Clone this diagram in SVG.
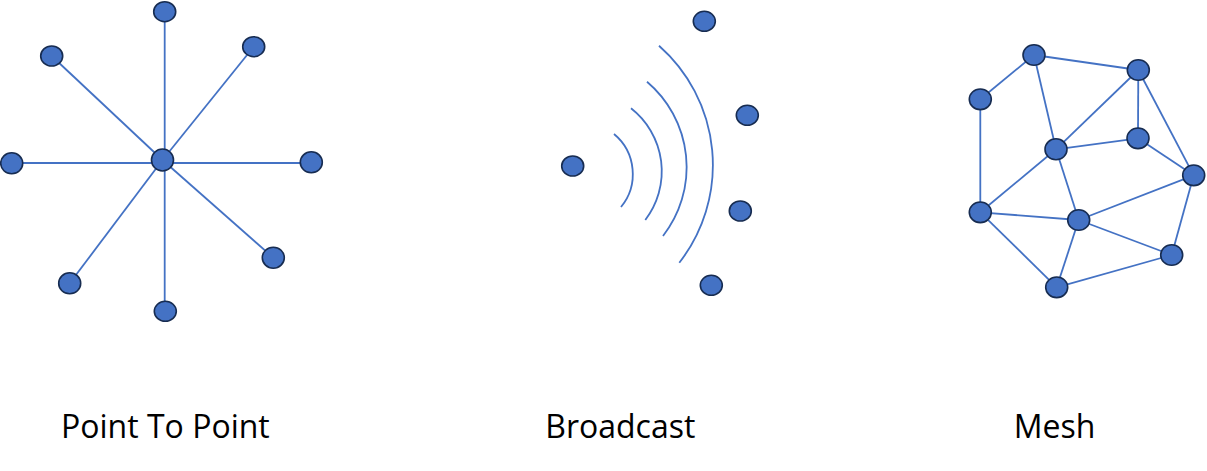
<svg xmlns="http://www.w3.org/2000/svg" width="1207" height="471" viewBox="0 0 1207 471">
<style>
.n{fill:#4472C4;stroke:#172C51;stroke-width:1.6}
.e{stroke:#4472C4;stroke-width:1.8;fill:none}
.t{font-family:"Open Sans","Liberation Sans",sans-serif;font-size:32px;fill:#000;text-anchor:middle}
</style>
<rect width="1207" height="471" fill="#fff"/>
<g id="connectors">
<line class="e" x1="164.7" y1="12" x2="164.7" y2="311"/>
<line class="e" x1="12" y1="163" x2="311" y2="163"/>
<line class="e" x1="51.7" y1="56" x2="162.5" y2="160"/>
<line class="e" x1="253.7" y1="46.7" x2="162.5" y2="160"/>
<line class="e" x1="273.3" y1="257.7" x2="162.5" y2="160"/>
<line class="e" x1="69.7" y1="283.3" x2="162.5" y2="160"/>
<path class="e" d="M614 134 A52 52 0 0 1 621 207"/>
<path class="e" d="M631 108.3 A80 80 0 0 1 645.3 220"/>
<path class="e" d="M647 81.7 A112 112 0 0 1 663 236"/>
<path class="e" d="M659 45.7 A159 159 0 0 1 679.3 262.7"/>
<g>
<line class="e" x1="1034" y1="55" x2="980.3" y2="99.3"/>
<line class="e" x1="1034" y1="55" x2="1138.3" y2="70"/>
<line class="e" x1="1034" y1="55" x2="1056" y2="149.3"/>
<line class="e" x1="1138.3" y1="70" x2="1056" y2="149.3"/>
<line class="e" x1="1138.3" y1="70" x2="1138" y2="138.3"/>
<line class="e" x1="1138.3" y1="70" x2="1193.7" y2="175.3"/>
<line class="e" x1="980.3" y1="99.3" x2="980.3" y2="212.3"/>
<line class="e" x1="1056" y1="149.3" x2="1138" y2="138.3"/>
<line class="e" x1="1056" y1="149.3" x2="980.3" y2="212.3"/>
<line class="e" x1="1056" y1="149.3" x2="1078.7" y2="220"/>
<line class="e" x1="1138" y1="138.3" x2="1193.7" y2="175.3"/>
<line class="e" x1="1193.7" y1="175.3" x2="1078.7" y2="220"/>
<line class="e" x1="1193.7" y1="175.3" x2="1171.7" y2="255"/>
<line class="e" x1="980.3" y1="212.3" x2="1078.7" y2="220"/>
<line class="e" x1="980.3" y1="212.3" x2="1056.7" y2="287.3"/>
<line class="e" x1="1078.7" y1="220" x2="1056.7" y2="287.3"/>
<line class="e" x1="1078.7" y1="220" x2="1171.7" y2="255"/>
<line class="e" x1="1171.7" y1="255" x2="1056.7" y2="287.3"/>
</g>
</g>
<g id="p2p-center"><ellipse class="n" cx="162.5" cy="160" rx="11" ry="11"/></g>
<g id="p2p-top"><ellipse class="n" cx="164.7" cy="11.7" rx="11" ry="10"/></g>
<g id="p2p-topleft"><ellipse class="n" cx="51.7" cy="56" rx="11" ry="10"/></g>
<g id="p2p-topright"><ellipse class="n" cx="253.7" cy="46.7" rx="11" ry="10"/></g>
<g id="p2p-left"><ellipse class="n" cx="11.7" cy="163.3" rx="11" ry="10.5"/></g>
<g id="p2p-right"><ellipse class="n" cx="311.3" cy="162.3" rx="11" ry="10.5"/></g>
<g id="p2p-bottomright"><ellipse class="n" cx="273.3" cy="257.7" rx="11" ry="10.5"/></g>
<g id="p2p-bottomleft"><ellipse class="n" cx="69.7" cy="283.3" rx="11" ry="10.5"/></g>
<g id="p2p-bottom"><ellipse class="n" cx="165.3" cy="311.3" rx="11" ry="10"/></g>
<g id="bc-source"><ellipse class="n" cx="572.7" cy="166" rx="11" ry="10"/></g>
<g id="bc-r1"><ellipse class="n" cx="704.3" cy="21.3" rx="11" ry="10"/></g>
<g id="bc-r2"><ellipse class="n" cx="747.3" cy="115.3" rx="11" ry="10"/></g>
<g id="bc-r3"><ellipse class="n" cx="740.3" cy="211" rx="11" ry="10"/></g>
<g id="bc-r4"><ellipse class="n" cx="711.3" cy="285.3" rx="11" ry="10"/></g>
<g id="mesh-a"><ellipse class="n" cx="1034" cy="55" rx="11" ry="10.3"/></g>
<g id="mesh-b"><ellipse class="n" cx="1138.3" cy="70" rx="11" ry="10.3"/></g>
<g id="mesh-c"><ellipse class="n" cx="980.3" cy="99.3" rx="11" ry="10.3"/></g>
<g id="mesh-d"><ellipse class="n" cx="1056" cy="149.3" rx="11" ry="10.5"/></g>
<g id="mesh-e"><ellipse class="n" cx="1138" cy="138.3" rx="11" ry="10.3"/></g>
<g id="mesh-f"><ellipse class="n" cx="1193.7" cy="175.3" rx="11" ry="10.3"/></g>
<g id="mesh-g"><ellipse class="n" cx="980.3" cy="212.3" rx="11" ry="10.3"/></g>
<g id="mesh-h"><ellipse class="n" cx="1078.7" cy="220" rx="11" ry="10.3"/></g>
<g id="mesh-i"><ellipse class="n" cx="1171.7" cy="255" rx="11" ry="10.3"/></g>
<g id="mesh-j"><ellipse class="n" cx="1056.7" cy="287.3" rx="11" ry="10.3"/></g>
<g id="labels">
<text class="t" x="165.4" y="437.7">Point To Point</text>
<text class="t" x="620.3" y="437.7">Broadcast</text>
<text class="t" x="1054.5" y="437.7">Mesh</text>
</g>
</svg>
